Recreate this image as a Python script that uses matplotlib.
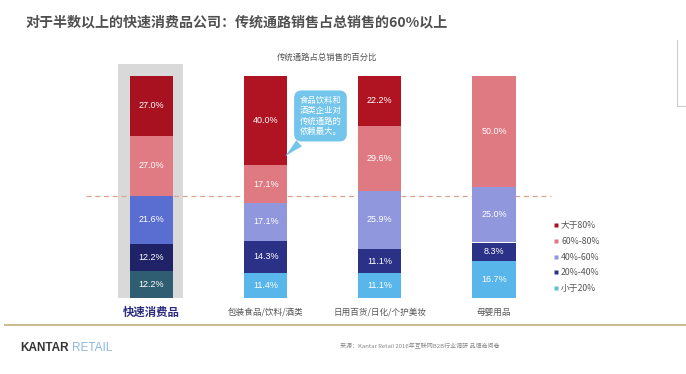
# 传统通路占总销售的百分比 - stacked bar chart

import matplotlib.pyplot as plt
from matplotlib.lines import Line2D
from matplotlib.patches import Rectangle

plt.rcParams['font.family'] = ['Noto Sans CJK SC', 'DejaVu Sans']

# Data (bottom to top of each bar)
categories = ['快速消费品', '包装食品/饮料/酒类', '日用百货/日化/个护美妆', '母婴用品']
lt20 = [12.2, 11.4, 11.1, 16.7]
p20_40 = [12.2, 14.3, 11.1, 8.3]
p40_60 = [21.6, 17.1, 25.9, 25.0]
p60_80 = [27.0, 17.1, 29.6, 50.0]
gt80 = [27.0, 40.0, 22.2, 0.0]
series = [lt20, p20_40, p40_60, p60_80, gt80]
legend_labels = ['大于80%', '60%-80%', '40%-60%', '20%-40%', '小于20%']
threshold = 46.0

# colours: first bar uses its own palette
first_colors = ['#2f5e72', '#1f2266', '#5a6dd0', '#e07b83', '#a8111f']
other_colors = ['#58b6ea', '#2b3186', '#9097dc', '#df7a82', '#b01322']
legend_colors = ['#a8111f', '#df7a82', '#9097dc', '#2b3186', '#5bbfd8']

W, H = 686, 374
fig = plt.figure(figsize=(W / 100, H / 100), dpi=100)
ax = fig.add_axes([94.4 / W, 1 - 298 / H, 456.7 / W, 222 / H])
ax.set_xlim(-0.5, 3.5)
ax.set_ylim(0, 100)
ax.axis('off')

# grey highlight behind first bar
ax.add_patch(Rectangle((-0.293, 0), 0.57, 105.4, facecolor='#d9d9d9',
                       edgecolor='none', clip_on=False, zorder=0))

x = range(len(categories))
bottom = [0.0] * len(categories)
for k, vals in enumerate(series):
    colors = [first_colors[k]] + [other_colors[k]] * (len(categories) - 1)
    ax.bar(x, vals, bottom=bottom, width=0.377, color=colors, zorder=2)
    for i, v in enumerate(vals):
        if v > 0:
            ax.text(i, bottom[i] + v / 2, f'{v:.1f}%', ha='center', va='center',
                    color='white', fontsize=6.5, zorder=3,
                    family=['Liberation Sans', 'DejaVu Sans'])
    bottom = [b + v for b, v in zip(bottom, vals)]

# dashed threshold line
ax.plot([-0.57, 3.5], [threshold, threshold], ls=(0, (4, 3)), color='#dca48e',
        lw=0.9, clip_on=False, zorder=1)

# category labels
for i, c in enumerate(categories):
    if i == 0:
        ax.text(i, -6.3, c, ha='center', va='center', fontsize=8.2,
                fontweight='bold', color='#2b2c80', clip_on=False)
    else:
        ax.text(i, -6.3, c, ha='center', va='center', fontsize=6.2,
                color='#555555', clip_on=False)

# callout bubble
ax.annotate('食品饮料和\n酒类企业对\n传统通路的\n依赖最大。', xy=(1.152, 63.0),
            xytext=(1.48, 82), ha='center', va='center', multialignment='left',
            fontsize=6, color='white', linespacing=1.2, zorder=4,
            bbox=dict(boxstyle='round,pad=0.65,rounding_size=0.9',
                      fc='#74c5ec', ec='none'),
            arrowprops=dict(arrowstyle='wedge,tail_width=1.0,shrink_factor=0.45',
                            fc='#74c5ec', ec='none', relpos=(0.22, 0.04)))

# legend
handles = [Line2D([], [], marker='s', ls='none', markersize=3,
                  markerfacecolor=c, markeredgecolor='none') for c in legend_colors]
fig.legend(handles, legend_labels, loc='upper left',
           bbox_to_anchor=(554 / W, 1 - 221 / H), frameon=False, fontsize=6.3,
           labelcolor='#555555', handlelength=0.5, handletextpad=0.3,
           labelspacing=0.78, borderpad=0, borderaxespad=0)

# titles
fig.text(26 / W, 1 - 22 / H, '对于半数以上的快速消费品公司：传统通路销售占总销售的60%以上',
         ha='left', va='center', fontsize=10.1, fontweight='bold', color='#505050')
fig.text(327 / W, 1 - 57 / H, '传统通路占总销售的百分比', ha='center', va='center',
         fontsize=6, color='#555555')

# footer
fig.add_artist(Line2D([5 / W, 1], [1 - 325 / H, 1 - 325 / H], color='#cdbb8e', lw=1.4))
t = fig.text(20 / W, 1 - 348 / H, 'KANTAR', ha='left', va='center', fontsize=8.5,
             fontweight='bold', color='#333333', family=['Liberation Sans'])
fig.canvas.draw()
bb = t.get_window_extent()
fig.text((bb.x1 + 3) / W, 1 - 348 / H, 'RETAIL', ha='left', va='center', fontsize=8.5,
         color='#8db6dc', family=['Liberation Sans'])
fig.text(340 / W, 1 - 346 / H, '来源：Kantar Retail 2016年互联网B2B行业调研 品牌商问卷',
         ha='left', va='center', fontsize=4.3, color='#888888')

# frame corner top right
fig.add_artist(Line2D([677 / W, 677 / W, 1], [1 - 40 / H, 1 - 106 / H, 1 - 106 / H],
                      color='#cccccc', lw=0.8))

fig.savefig('out.png', dpi=100)
